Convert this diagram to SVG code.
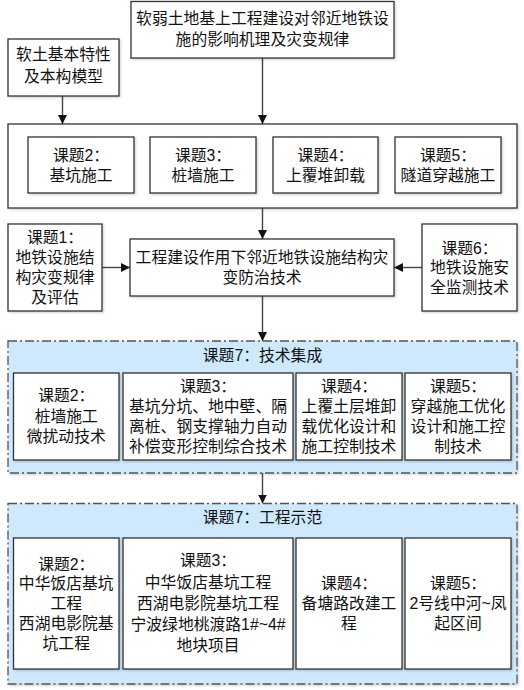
<svg xmlns="http://www.w3.org/2000/svg" width="524" height="690" viewBox="0 0 524 690">
<style>
.bg{fill:#ffffff}
.box{fill:#ffffff;stroke:#333333;stroke-width:1.3;filter:url(#sh)}
.frame{fill:#ffffff;stroke:#333333;stroke-width:1.3;filter:url(#sh)}
.grp{fill:#cde9fb;stroke:#555555;stroke-width:1.3;stroke-dasharray:9 3 2 3;filter:url(#sh)}
.con{stroke:#444444;stroke-width:1.4;fill:none;marker-end:url(#ah)}
text{font-family:"Liberation Sans","Noto Sans CJK SC",sans-serif;font-size:15.8px;fill:#111111;text-anchor:middle;dominant-baseline:central}
</style>
<defs>
<filter id="sh" x="-10%" y="-10%" width="120%" height="120%">
<feDropShadow dx="1.2" dy="1.2" stdDeviation="0.8" flood-color="#000000" flood-opacity="0.18"/>
</filter>
<marker id="ah" markerWidth="9" markerHeight="9" refX="9" refY="4.5" orient="auto" markerUnits="userSpaceOnUse">
<path d="M0,0 L9,4.5 L0,9 z" fill="#111111"/>
</marker>
</defs>
<rect class="bg" x="0" y="0" width="524" height="690"/>

<g id="connectors">
<line class="con" x1="62.5" y1="96" x2="62.5" y2="124"/>
<line class="con" x1="262.5" y1="58" x2="262.5" y2="124"/>
<line class="con" x1="262.5" y1="208" x2="262.5" y2="239"/>
<line class="con" x1="102" y1="267.5" x2="130" y2="267.5"/>
<line class="con" x1="422" y1="267.5" x2="394" y2="267.5"/>
<line class="con" x1="262.5" y1="296" x2="262.5" y2="341"/>
<line class="con" x1="262.5" y1="473" x2="262.5" y2="503.5"/>
</g>

<g id="top">
<rect class="box" x="131" y="1.5" width="263" height="56.5"/>
<text x="262.5" y="18.5">软弱土地基上工程建设对邻近地铁设</text>
<text x="262.5" y="39">施的影响机理及灾变规律</text>
</g>

<g id="softsoil">
<rect class="box" x="8" y="39" width="111" height="57"/>
<text x="63.5" y="54.5">软土基本特性</text>
<text x="63.5" y="76">及本构模型</text>
</g>

<g id="effects">
<rect class="frame" x="8" y="124" width="509" height="84"/>
<g id="e2">
<rect class="box" x="28" y="137" width="106" height="56"/>
<text x="81" y="155.5">课题2：</text>
<text x="81" y="175">基坑施工</text>
</g>
<g id="e3">
<rect class="box" x="150" y="137" width="106" height="56"/>
<text x="203" y="155.5">课题3：</text>
<text x="203" y="175">桩墙施工</text>
</g>
<g id="e4">
<rect class="box" x="273" y="137" width="105" height="56"/>
<text x="325.5" y="155.5">课题4：</text>
<text x="325.5" y="175">上覆堆卸载</text>
</g>
<g id="e5">
<rect class="box" x="395" y="137" width="106" height="56"/>
<text x="448" y="155.5">课题5：</text>
<text x="448" y="175">隧道穿越施工</text>
</g>
</g>

<g id="t1">
<rect class="box" x="8" y="224" width="94" height="87"/>
<text x="55" y="237.5">课题1：</text>
<text x="55" y="257.5">地铁设施结</text>
<text x="55" y="277.5">构灾变规律</text>
<text x="55" y="297.5">及评估</text>
</g>

<g id="center">
<rect class="box" x="130" y="239" width="264" height="57"/>
<text x="262" y="257.5">工程建设作用下邻近地铁设施结构灾</text>
<text x="262" y="277">变防治技术</text>
</g>

<g id="t6">
<rect class="box" x="422" y="224" width="95" height="87"/>
<text x="469.5" y="248">课题6：</text>
<text x="469.5" y="267.5">地铁设施安</text>
<text x="469.5" y="287.5">全监测技术</text>
</g>

<g id="integration">
<rect class="grp" x="8" y="341" width="509" height="132"/>
<text x="262.5" y="355">课题7：技术集成</text>
<g id="i2">
<rect class="box" x="13.5" y="373" width="105.5" height="87"/>
<text x="66.25" y="395.5">课题2：</text>
<text x="66.25" y="416.5">桩墙施工</text>
<text x="66.25" y="436.5">微扰动技术</text>
</g>
<g id="i3">
<rect class="box" x="123" y="373" width="170" height="87"/>
<text x="208" y="386.5">课题3：</text>
<text x="208" y="406.5">基坑分坑、地中壁、隔</text>
<text x="208" y="426.5">离桩、钢支撑轴力自动</text>
<text x="208" y="446.5">补偿变形控制综合技术</text>
</g>
<g id="i4">
<rect class="box" x="296" y="373" width="106" height="87"/>
<text x="349" y="386.5">课题4：</text>
<text x="349" y="406.5">上覆土层堆卸</text>
<text x="349" y="426.5">载优化设计和</text>
<text x="349" y="446.5">施工控制技术</text>
</g>
<g id="i5">
<rect class="box" x="405" y="373" width="106" height="87"/>
<text x="458" y="386.5">课题5：</text>
<text x="458" y="406.5">穿越施工优化</text>
<text x="458" y="426.5">设计和施工控</text>
<text x="458" y="446.5">制技术</text>
</g>
</g>

<g id="demo">
<rect class="grp" x="8" y="503.5" width="509" height="180.5"/>
<text x="262.5" y="517">课题7：工程示范</text>
<g id="d2">
<rect class="box" x="13.5" y="538" width="105.5" height="131"/>
<text x="66.25" y="564">课题2：</text>
<text x="66.25" y="583.5">中华饭店基坑</text>
<text x="66.25" y="603.5">工程</text>
<text x="66.25" y="623.5">西湖电影院基</text>
<text x="66.25" y="643.5">坑工程</text>
</g>
<g id="d3">
<rect class="box" x="123" y="538" width="170" height="131"/>
<text x="208" y="560.5">课题3：</text>
<text x="208" y="582">中华饭店基坑工程</text>
<text x="208" y="603">西湖电影院基坑工程</text>
<text x="208" y="624">宁波绿地桃渡路1#~4#</text>
<text x="208" y="645.5">地块项目</text>
</g>
<g id="d4">
<rect class="box" x="296" y="538" width="106" height="131"/>
<text x="349" y="583.5">课题4：</text>
<text x="349" y="603.5">备塘路改建工</text>
<text x="349" y="623.5">程</text>
</g>
<g id="d5">
<rect class="box" x="405" y="538" width="106" height="131"/>
<text x="458" y="583.5">课题5：</text>
<text x="458" y="603.5">2号线中河~凤</text>
<text x="458" y="623.5">起区间</text>
</g>
</g>
</svg>
